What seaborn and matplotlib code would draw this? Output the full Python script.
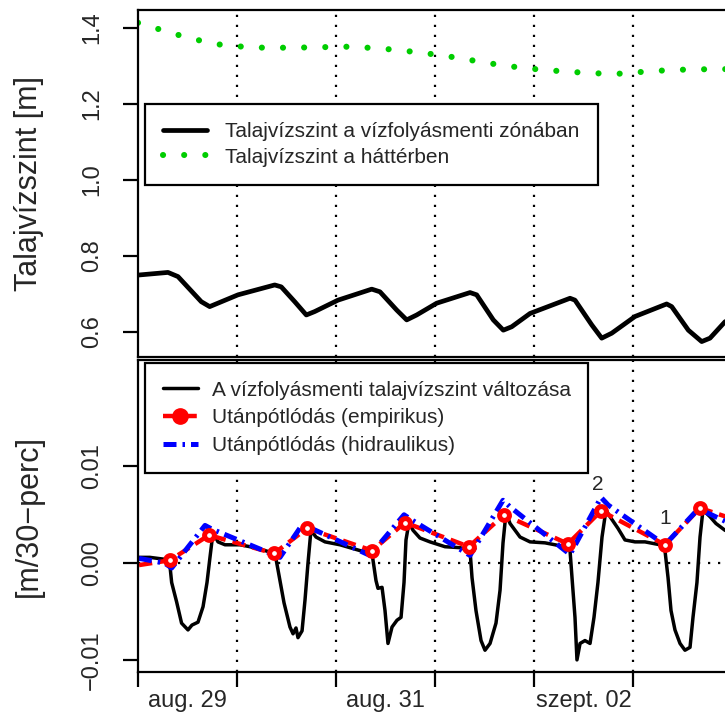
import numpy as np
import pandas as pd
import seaborn as sns
import matplotlib.pyplot as plt
from matplotlib.lines import Line2D

# time axis: days since aug. 29 00:00
# background groundwater level (green dotted)
bg_day = [0.0, 0.2, 0.42, 0.63, 0.84, 1.06, 1.3, 1.7, 2.1, 2.35, 2.6, 2.9, 3.2,
          3.4, 3.7, 4.05, 4.3, 4.6, 4.9, 5.1, 5.4, 5.8, 6.2]
bg_level = [1.413, 1.397, 1.38, 1.366, 1.355, 1.35, 1.347, 1.348, 1.35, 1.347,
            1.342, 1.333, 1.322, 1.313, 1.30, 1.29, 1.285, 1.28, 1.279, 1.284,
            1.289, 1.291, 1.291]

# groundwater level in the riparian zone (black)
zone_day = [0.0, 0.303, 0.404, 0.639, 0.724, 1.01, 1.381, 1.447, 1.583, 1.70, 1.785,
            2.02, 2.361, 2.444, 2.613, 2.714, 2.815, 3.017, 3.354, 3.421, 3.589,
            3.69, 3.775, 3.96, 4.364, 4.414, 4.583, 4.684, 4.785, 5.02, 5.34,
            5.391, 5.559, 5.694, 5.778, 5.929, 6.2]
zone_level = [0.749, 0.756, 0.745, 0.679, 0.666, 0.697, 0.723, 0.718, 0.679, 0.644,
              0.653, 0.683, 0.712, 0.705, 0.657, 0.631, 0.644, 0.675, 0.703, 0.697,
              0.631, 0.604, 0.613, 0.648, 0.688, 0.683, 0.618, 0.583, 0.596, 0.64,
              0.673, 0.666, 0.604, 0.574, 0.583, 0.626, 0.66]

# change of the riparian groundwater level (black, bottom)
chg_day = [0.0, 0.12, 0.27, 0.32, 0.34, 0.39, 0.44, 0.505, 0.545, 0.606, 0.657, 0.697,
           0.727, 0.758, 0.808, 0.879, 1.03, 1.131, 1.283, 1.384,
           1.434, 1.475, 1.535, 1.566, 1.596, 1.616, 1.657, 1.687, 1.717, 1.747,
           1.798, 1.889, 2.04, 2.242, 2.364,
           2.404, 2.424, 2.465, 2.495, 2.525, 2.566, 2.616, 2.657, 2.687, 2.707,
           2.737, 2.778, 2.848, 2.949, 3.101, 3.253, 3.354,
           3.374, 3.414, 3.465, 3.505, 3.556, 3.616, 3.657, 3.687, 3.717, 3.758,
           3.859, 3.96, 4.111, 4.313, 4.364,
           4.384, 4.414, 4.434, 4.465, 4.515, 4.566, 4.606, 4.646, 4.687, 4.727,
           4.768, 4.848, 4.919, 5.02, 5.121, 5.273, 5.323,
           5.354, 5.384, 5.424, 5.475, 5.525, 5.576, 5.606, 5.646, 5.677, 5.707,
           5.778, 5.838, 5.929, 6.03]
chg_value = [0.0006, 0.0006, 0.0004, 0.0, -0.002, -0.004, -0.0062, -0.0069, -0.0064,
             -0.0061, -0.0045, -0.002, 0.0006, 0.0032, 0.0022, 0.0019, 0.0019,
             0.0017, 0.0013, 0.001,
             -0.0018, -0.0041, -0.0066, -0.0073, -0.0067, -0.0077, -0.007, -0.0038,
             0.0, 0.0034, 0.0027, 0.0022, 0.0019, 0.0013, 0.001,
             -0.0018, -0.0026, -0.0025, -0.0049, -0.0083, -0.0066, -0.0059, -0.0056,
             -0.002, 0.0024, 0.0042, 0.0034, 0.0026, 0.0022, 0.0017, 0.0016, 0.0013,
             -0.0015, -0.0049, -0.008, -0.009, -0.0083, -0.0062, -0.0028, 0.0021,
             0.0052, 0.0041, 0.0027, 0.0022, 0.0021, 0.0017, 0.0013,
             -0.0015, -0.0056, -0.01, -0.0083, -0.008, -0.0083, -0.0056, -0.002,
             0.0027, 0.0055, 0.0048, 0.0036, 0.0024, 0.0022, 0.0022, 0.0019, 0.0013,
             -0.0015, -0.0049, -0.0069, -0.0083, -0.009, -0.0087, -0.0056, -0.002,
             0.0027, 0.0055, 0.0048, 0.0041, 0.0034, 0.003]

# recharge, empirical (red) - line and marker points
emp_day = [0.01, 0.323, 0.717, 1.374, 1.707, 2.364, 2.697, 3.343, 3.697, 4.343,
           4.677, 5.323, 5.677, 6.0]
emp_value = [-0.0002, 0.0003, 0.0029, 0.001, 0.0036, 0.0013, 0.0042, 0.0017, 0.005,
             0.002, 0.0054, 0.0019, 0.0057, 0.0046]
mark_day = emp_day[1:-1]
mark_value = emp_value[1:-1]

# recharge, hydraulic (blue)
hyd_day = [0.01, 0.27, 0.34, 0.677, 0.75, 1.434, 1.667, 1.75, 2.343, 2.687, 2.76,
           3.354, 3.687, 3.76, 4.364, 4.677, 4.75, 5.323, 5.677, 5.75, 6.0]
hyd_value = [0.0005, 0.0, -0.0005, 0.0039, 0.0035, 0.0006, 0.0041, 0.0036, 0.0008,
             0.005, 0.0045, 0.0008, 0.0065, 0.0058, 0.0009, 0.0068, 0.006, 0.0019,
             0.0058, 0.0052, 0.004]

tick_label_pos = [0.5, 2.5, 4.5]
tick_labels = ["aug. 29", "aug. 31", "szept. 02"]

sns.set_style("ticks")
plt.rcParams['font.family'] = ['Liberation Sans', 'DejaVu Sans']

W, H = 725, 713
fig = plt.figure(figsize=(W / 100, H / 100), dpi=100)
ax_w = 643.5 / W
ax1 = fig.add_axes([138 / W, 1 - 357 / H, ax_w, 347 / H])
ax2 = fig.add_axes([138 / W, 1 - 672 / H, ax_w, 312 / H])

green = '#00cd00'
dotted = (0, (1, 3.5))

# top panel
for d in range(1, 7):
    ax1.axvline(d, color='black', lw=1.6, linestyle=dotted, zorder=0)
sns.lineplot(x=bg_day, y=bg_level, ax=ax1, color=green, lw=4.4,
             linestyle=(0, (0.01, 3.45)), dash_capstyle='round')
sns.lineplot(x=zone_day, y=zone_level, ax=ax1, color='black', lw=3.4,
             solid_joinstyle='round', solid_capstyle='round')
ax1.set_xlim(0, 6.5)
ax1.set_ylim(0.5334, 1.4466)
ax1.set_xticks([])
ax1.set_yticks([0.6, 0.8, 1.0, 1.2, 1.4])
ax1.set_yticklabels(["0.6", "0.8", "1.0", "1.2", "1.4"], rotation=90, va='center')
ax1.set_ylabel("Talajvízszint [m]", fontsize=22)
ax1.yaxis.set_label_coords(-0.170, 0.5)
ax1.yaxis.label.set_va('center')

h1 = [Line2D([], [], color='black', lw=3.4),
      Line2D([], [], color=green, lw=4.4, linestyle=(0, (0.01, 3.45)),
             dash_capstyle='round')]
leg1 = ax1.legend(h1, ["Talajvízszint a vízfolyásmenti zónában",
                       "Talajvízszint a háttérben"],
                  loc='upper left', bbox_to_anchor=(145 / W, 1 - 104 / H),
                  bbox_transform=fig.transFigure, borderaxespad=0, fontsize=15,
                  fancybox=False, framealpha=1, edgecolor='black',
                  handlelength=2.1, handletextpad=0.85, labelspacing=0.3,
                  borderpad=0.88)
leg1.get_frame().set_linewidth(1.6)

# bottom panel
for d in range(1, 7):
    ax2.axvline(d, color='black', lw=1.6, linestyle=dotted, zorder=0)
ax2.axhline(0, color='black', lw=1.6, linestyle=dotted, zorder=0)
sns.lineplot(x=chg_day, y=chg_value, ax=ax2, color='black', lw=2.5,
             solid_joinstyle='round')
sns.lineplot(x=emp_day, y=emp_value, ax=ax2, color='red', lw=3.2,
             linestyle=(0, (3, 1.6)))
sns.lineplot(x=hyd_day, y=hyd_value, ax=ax2, color='blue', lw=3.6,
             linestyle=(0, (2.6, 1.2, 0.5, 1.2)))
sns.scatterplot(x=mark_day, y=mark_value, ax=ax2, marker='o', s=50,
                facecolor='white', edgecolor='red', linewidth=3.6, zorder=5)
ax2.text(mark_day[9] - 0.03, 0.0081, "2", fontsize=15, ha='center', va='center')
ax2.text(mark_day[10] + 0.0, 0.0046, "1", fontsize=15, ha='center', va='center')

ax2.set_xlim(0, 6.5)
ax2.set_ylim(-0.01125, 0.021)
ax2.set_yticks([-0.01, 0.0, 0.01])
ax2.set_yticklabels(["−0.01", "0.00", "0.01"], rotation=90, va='center')
ax2.set_xticks([0, 1, 2, 3, 4, 5, 6])
ax2.set_xticklabels([])
ax2.set_xticks(tick_label_pos, minor=True)
ax2.set_xticklabels(tick_labels, minor=True)
ax2.tick_params(axis='x', which='minor', length=0, pad=13, labelsize=17)
ax2.set_ylabel("[m/30−perc]", fontsize=22)
ax2.yaxis.set_label_coords(-0.170, 0.5)
ax2.yaxis.label.set_va('center')

h2 = [Line2D([], [], color='black', lw=2.5),
      Line2D([], [], color='red', lw=3.2, linestyle=(0, (3, 1.6)), marker='o',
             ms=11, mfc='red', mec='red'),
      Line2D([], [], color='blue', lw=3.6, linestyle=(0, (2.6, 1.2, 0.5, 1.2)))]
leg2 = ax2.legend(h2, ["A vízfolyásmenti talajvízszint változása",
                       "Utánpótlódás (empirikus)",
                       "Utánpótlódás (hidraulikus)"],
                  loc='upper left', bbox_to_anchor=(145 / W, 1 - 363 / H),
                  bbox_transform=fig.transFigure, borderaxespad=0, fontsize=15,
                  fancybox=False, framealpha=1, edgecolor='black',
                  handlelength=1.7, handletextpad=0.65, labelspacing=0.42,
                  borderpad=0.85)
leg2.get_frame().set_linewidth(1.6)

for ax in (ax1, ax2):
    for sp in ax.spines.values():
        sp.set_linewidth(1.6)
        sp.set_color('black')
    ax.tick_params(axis='both', which='major', length=11, width=1.6,
                   labelsize=17, color='black')
    ax.tick_params(axis='y', pad=14)

fig.savefig("out.png", dpi=100)
